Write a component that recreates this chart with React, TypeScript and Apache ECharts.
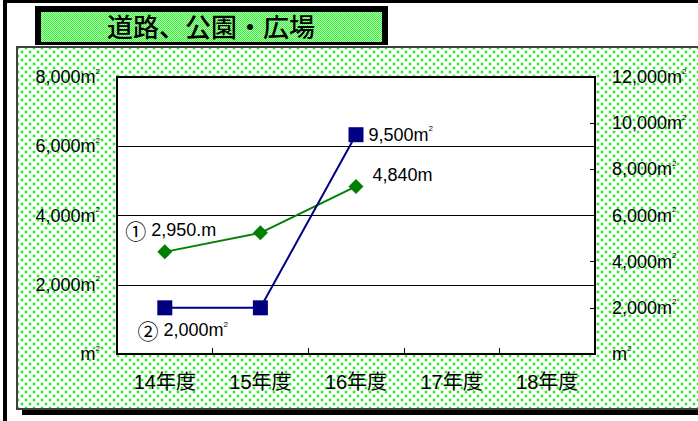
import React, { useEffect, useRef } from "react";
import * as echarts from "echarts";

const titleText = "道路、公園・広場";
const categories = ["14年度", "15年度", "16年度", "17年度", "18年度"];
// ① roads (left axis, m)
const roadValues: (number | null)[] = [2950, 3500, 4840, null, null];
const roadLabels = ["① 2,950.m", "", "4,840m", "", ""];
const roadLabelSup = [false, false, false, false, false];
// ② parks/plazas (right axis, m²)
const parkValues: (number | null)[] = [2000, 2000, 9500, null, null];
const parkLabels = ["② 2,000m", "", "9,500m", "", ""];
const parkLabelSup = [true, false, true, false, false];
const leftMin = 0;
const leftMax = 8000;
const rightMin = 0;
const rightMax = 12000;
const tickStep = 2000;

const FONT = "'Liberation Sans', 'Noto Sans CJK JP', sans-serif";

const axisFmt = (v: number) =>
  v === 0 ? "{v|m}{s|2}" : "{v|" + v.toLocaleString("en-US") + "m}{s|2}";

const richBase = (size: number) => ({
  v: { fontSize: size, fontFamily: FONT, color: "#000", lineHeight: size + 2 },
  c: { fontSize: size + 3, fontFamily: "'Noto Sans CJK JP', sans-serif", color: "#000", lineHeight: size + 2 },
  s: { fontSize: 8, fontFamily: FONT, color: "#000", verticalAlign: "top", lineHeight: size + 2 },
});

export default function App() {
  const ref = useRef<HTMLDivElement>(null);

  useEffect(() => {
    if (!ref.current) return;
    const chart = echarts.init(ref.current, undefined, { renderer: "svg" });

    const roadLabelCfg = [
      { position: "top", offset: [6, 1] },
      null,
      { position: "right", offset: [4, -11] },
    ];
    const parkLabelCfg = [
      { position: "bottom", offset: [18, 0] },
      null,
      { position: "right", offset: [0, 0] },
    ];

    const fmtLabel = (txt: string, sup: boolean) => {
      const m = txt.match(/^([①②])\s*(.*)$/);
      const body = m ? "{c|" + m[1] + "}{v| " + m[2] + "}" : "{v|" + txt + "}";
      return body + (sup ? "{s|2}" : "");
    };

    const mkData = (
      vals: (number | null)[],
      labels: string[],
      sups: boolean[],
      cfg: any[]
    ) =>
      vals.map((v, i) => {
        if (!labels[i]) return v;
        const c = cfg[i] || { position: "top", offset: [0, 0] };
        return {
          value: v,
          label: {
            show: true,
            position: c.position,
            offset: c.offset,
            distance: 5,
            formatter: fmtLabel(labels[i], sups[i]),
            rich: richBase(18),
          },
        };
      });

    chart.setOption({
      animation: false,
      backgroundColor: "transparent",
      graphic: [
        {
          type: "text",
          x: 211,
          y: 25,
          style: {
            text: titleText,
            fontSize: 26,
            fontFamily: "'Noto Sans CJK JP', sans-serif",
            fontWeight: 500,
            fill: "#000",
            textAlign: "center",
            textVerticalAlign: "middle",
          },
        },
      ],
      grid: {
        left: 117,
        right: 103,
        top: 77,
        bottom: 67,
        show: true,
        backgroundColor: "#fff",
        borderColor: "#000",
        borderWidth: 2,
      },
      xAxis: {
        type: "category",
        data: categories,
        boundaryGap: true,
        axisLine: { show: true, lineStyle: { color: "#000", width: 2 } },
        axisTick: { show: true, inside: true, length: 6, lineStyle: { color: "#000", width: 1 } },
        axisLabel: {
          margin: 18,
          fontSize: 20,
          fontFamily: FONT,
          color: "#000",
        },
        splitLine: { show: false },
      },
      yAxis: [
        {
          type: "value",
          min: leftMin,
          max: leftMax,
          interval: tickStep,
          position: "left",
          axisLine: { show: true, lineStyle: { color: "#000", width: 2 } },
          axisTick: { show: true, inside: true, length: 5, lineStyle: { color: "#000" } },
          splitLine: { show: true, lineStyle: { color: "#000", width: 1 } },
          axisLabel: {
            margin: 17,
            formatter: axisFmt,
            rich: richBase(18),
          },
        },
        {
          type: "value",
          min: rightMin,
          max: rightMax,
          interval: tickStep,
          position: "right",
          axisLine: { show: true, lineStyle: { color: "#000", width: 2 } },
          axisTick: { show: true, inside: true, length: 5, lineStyle: { color: "#000" } },
          splitLine: { show: false },
          axisLabel: {
            margin: 17,
            formatter: axisFmt,
            rich: richBase(18),
          },
        },
      ],
      series: [
        {
          name: "道路",
          type: "line",
          yAxisIndex: 0,
          data: mkData(roadValues, roadLabels, roadLabelSup, roadLabelCfg),
          symbol: "diamond",
          symbolSize: 15,
          showAllSymbol: true,
          connectNulls: false,
          lineStyle: { color: "#008000", width: 2 },
          itemStyle: { color: "#008000" },
        },
        {
          name: "公園・広場",
          type: "line",
          yAxisIndex: 1,
          data: mkData(parkValues, parkLabels, parkLabelSup, parkLabelCfg),
          symbol: "rect",
          symbolSize: 15,
          showAllSymbol: true,
          connectNulls: false,
          lineStyle: { color: "#000080", width: 2 },
          itemStyle: { color: "#000080" },
        },
      ],
    });

    return () => chart.dispose();
  }, []);

  const dots =
    "radial-gradient(circle at 50% 50%, rgba(20,240,20,1) 0px, rgba(20,240,20,0.9) 0.9px, rgba(20,240,20,0) 1.9px)";

  return (
    <div
      style={{
        position: "absolute",
        left: 0,
        top: 0,
        width: 698,
        height: 421,
        background: "#fff",
        overflow: "hidden",
      }}
    >
      <div style={{ position: "absolute", left: 3, top: 0, width: 695, height: 3, background: "#000" }} />
      <div style={{ position: "absolute", left: 3, top: 0, width: 4, height: 421, background: "#000" }} />
      <div style={{ position: "absolute", left: 35, top: 6, width: 353, height: 39, background: "#000" }} />
      <div
        style={{
          position: "absolute",
          left: 41,
          top: 12,
          width: 341,
          height: 30,
          backgroundColor: "#88f088",
          backgroundImage:
            "conic-gradient(#3cec3c 25%, #b4ffb4 0 50%, #3cec3c 0 75%, #b4ffb4 0)",
          backgroundSize: "2px 2px",
        }}
      />
      <div style={{ position: "absolute", left: 22, top: 410, width: 676, height: 5, background: "#000" }} />
      <div
        style={{
          position: "absolute",
          left: 16,
          top: 46,
          width: 700,
          height: 364,
          boxSizing: "border-box",
          borderTop: "2px solid #404040",
          borderLeft: "2px solid #404040",
          borderBottom: "2px solid #404040",
          backgroundColor: "#fff",
          backgroundImage: dots + "," + dots,
          backgroundSize: "8px 8px, 8px 8px",
          backgroundPosition: "0px 0px, 4px 4px",
        }}
      />
      <div ref={ref} style={{ position: "absolute", left: 0, top: 0, width: 698, height: 421 }} />
    </div>
  );
}
